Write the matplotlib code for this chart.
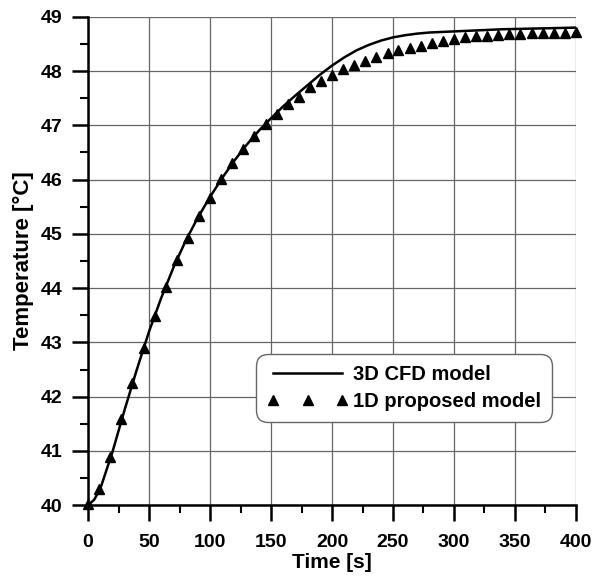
import matplotlib
matplotlib.use('Agg')
import matplotlib.pyplot as plt
from matplotlib.ticker import MultipleLocator

plt.rcParams['font.family'] = ['Liberation Sans', 'DejaVu Sans']
plt.rcParams['font.weight'] = 'bold'
plt.rcParams['axes.labelweight'] = 'bold'

# 3D CFD model (solid line)
cfd_time = [0, 5, 10, 20, 30, 40, 50, 60, 70, 80, 90, 100, 110, 120, 130, 140,
            150, 160, 170, 180, 190, 200, 210, 220, 230, 240, 250, 260, 270,
            280, 290, 300, 320, 340, 360, 380, 400]
cfd_temp = [40.0, 40.1, 40.3, 40.98, 41.76, 42.5, 43.2, 43.82, 44.38, 44.87,
            45.3, 45.68, 46.03, 46.35, 46.64, 46.9, 47.13, 47.35, 47.55, 47.74,
            47.93, 48.1, 48.25, 48.38, 48.48, 48.56, 48.62, 48.66, 48.69,
            48.71, 48.72, 48.73, 48.75, 48.77, 48.78, 48.79, 48.8]

# 1D proposed model (triangles)
model_time = [0, 9.1, 18.2, 27.3, 36.4, 45.5, 54.5, 63.6, 72.7, 81.8, 90.9,
              100.0, 109.1, 118.2, 127.3, 136.4, 145.5, 154.5, 163.6, 172.7,
              181.8, 190.9, 200.0, 209.1, 218.2, 227.3, 236.4, 245.5, 254.5,
              263.6, 272.7, 281.8, 290.9, 300.0, 309.1, 318.2, 327.3, 336.4,
              345.5, 354.5, 363.6, 372.7, 381.8, 390.9, 400.0]
model_temp = [40.03, 40.3, 40.89, 41.58, 42.26, 42.9, 43.49, 44.02, 44.52,
              44.93, 45.33, 45.66, 46.01, 46.3, 46.57, 46.81, 47.02, 47.21,
              47.39, 47.53, 47.71, 47.81, 47.92, 48.03, 48.11, 48.19, 48.26,
              48.33, 48.38, 48.43, 48.47, 48.51, 48.55, 48.59, 48.62, 48.64,
              48.65, 48.67, 48.68, 48.69, 48.70, 48.70, 48.70, 48.70, 48.71]

fig = plt.figure(figsize=(5.95, 5.78), dpi=100)
ax = fig.add_axes([0.148, 0.126, 0.82, 0.845])

ax.plot(cfd_time, cfd_temp, color='black', lw=1.8, label='3D CFD model', zorder=3)
ax.plot(model_time, model_temp, '^', color='black', ms=7, ls='none',
        label='1D proposed model', zorder=4, clip_on=False)

ax.set_xlim(0, 400)
ax.set_ylim(40, 49)
ax.xaxis.set_major_locator(MultipleLocator(50))
ax.xaxis.set_minor_locator(MultipleLocator(25))
ax.yaxis.set_major_locator(MultipleLocator(1))
ax.yaxis.set_minor_locator(MultipleLocator(0.5))

ax.grid(True, which='major', color='0.4', lw=0.9)
ax.spines['top'].set_visible(False)
ax.spines['right'].set_visible(False)
ax.spines['left'].set_linewidth(1.8)
ax.spines['bottom'].set_linewidth(1.8)
ax.tick_params(which='major', direction='out', length=11.5, width=1.8, labelsize=14)
ax.tick_params(axis='x', which='major', pad=9)
ax.tick_params(axis='y', which='major', pad=7)
ax.tick_params(which='minor', direction='out', length=6, width=1.5)
for lbl in ax.get_xticklabels() + ax.get_yticklabels():
    lbl.set_fontweight('bold')

ax.set_xlabel('Time [s]', fontsize=15, labelpad=2)
ax.set_ylabel('Temperature [°C]', fontsize=16, labelpad=5)

leg = ax.legend(loc='lower right', bbox_to_anchor=(0.951, 0.17), numpoints=3,
                handlelength=4.0, fontsize=14.5, fancybox=True, framealpha=1,
                edgecolor='0.4', borderpad=0.55, handletextpad=0.25,
                labelspacing=0.4, borderaxespad=0)
leg.get_frame().set_linewidth(1.0)
leg.get_frame().set_boxstyle('round', pad=0, rounding_size=0.6)

fig.savefig('out.png', dpi=100)
